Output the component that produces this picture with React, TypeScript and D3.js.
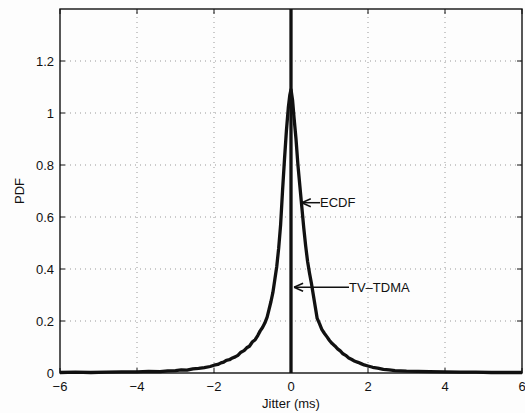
import React from "react";
import * as d3 from "d3";

const ecdfX = [
  -6, -5.6, -5.2, -4.8, -4.4, -4.0, -3.7, -3.4, -3.2, -3.0, -2.85, -2.7, -2.55, -2.4, -2.25, -2.1, -2.0,
  -1.9, -1.82, -1.75, -1.68, -1.6, -1.52, -1.45, -1.38, -1.3, -1.22, -1.15, -1.08, -1.0, -0.93, -0.86,
  -0.8, -0.74, -0.68, -0.62, -0.57, -0.52, -0.47, -0.42, -0.37, -0.32, -0.27, -0.22, -0.17, -0.12, -0.07, -0.03, 0,
  0.04, 0.08, 0.13, 0.18, 0.23, 0.28, 0.33, 0.38, 0.43, 0.48, 0.53, 0.58, 0.63, 0.68, 0.74, 0.8, 0.87, 0.94,
  1.0, 1.07, 1.14, 1.21, 1.28, 1.35, 1.42, 1.5, 1.58, 1.66, 1.74, 1.82, 1.9, 2.0, 2.12, 2.25, 2.4, 2.55, 2.7,
  2.85, 3.0, 3.3, 3.6, 4.0, 4.4, 4.8, 5.2, 5.6, 6,
];
const ecdfY = [
  0.002, 0.003, 0.002, 0.003, 0.004, 0.004, 0.006, 0.005, 0.008, 0.009, 0.012, 0.011, 0.016, 0.018, 0.021, 0.025, 0.03,
  0.033, 0.039, 0.042, 0.049, 0.051, 0.058, 0.062, 0.068, 0.08, 0.086, 0.097, 0.103, 0.12, 0.128, 0.145,
  0.162, 0.175, 0.192, 0.215, 0.245, 0.275, 0.31, 0.36, 0.41, 0.48, 0.57, 0.7, 0.82, 0.93, 1.02, 1.07, 1.09,
  1.05, 0.98, 0.9, 0.8, 0.72, 0.64, 0.56, 0.49, 0.43, 0.385, 0.345, 0.3, 0.255, 0.21, 0.19, 0.168, 0.152, 0.138,
  0.125, 0.113, 0.104, 0.093, 0.085, 0.074, 0.068, 0.058, 0.052, 0.045, 0.041, 0.036, 0.031, 0.027, 0.022, 0.019, 0.014, 0.012, 0.009,
  0.008, 0.007, 0.006, 0.005, 0.004, 0.003, 0.003, 0.002, 0.002, 0.002,
];
const tvX = [0, 0];
const tvY = [0, 1.4];
const xTicks = [-6, -4, -2, 0, 2, 4, 6];
const yTicks = [0, 0.2, 0.4, 0.6, 0.8, 1, 1.2];

const W = 525;
const H = 413;
const m = { left: 60, right: 3, top: 9, bottom: 40 };

export default function App() {
  const x = d3.scaleLinear().domain([-6, 6]).range([m.left, W - m.right]);
  const y = d3.scaleLinear().domain([0, 1.4]).range([H - m.bottom, m.top]);
  const line = d3
    .line<[number, number]>()
    .x((d) => x(d[0]))
    .y((d) => y(d[1]));
  const ecdf = ecdfX.map((v, i) => [v, ecdfY[i]] as [number, number]);
  const tv = tvX.map((v, i) => [v, tvY[i]] as [number, number]);
  const fmt = (v: number) => (v < 0 ? "\u2212" + Math.abs(v) : String(v));
  const x0 = m.left;
  const x1 = W - m.right;
  const y0 = H - m.bottom;
  const y1 = m.top;
  const font = "'Liberation Sans', Arial, Helvetica, sans-serif";
  const fs = 13;

  const arrow = (tx: number, ty: number, ex: number) => {
    const px = x(tx);
    const py = y(ty);
    return (
      <g stroke="#111" strokeWidth={1.5} fill="none">
        <line x1={px} y1={py} x2={ex} y2={py} />
        <line x1={px} y1={py} x2={px + 9} y2={py - 4} />
        <line x1={px} y1={py} x2={px + 9} y2={py + 4} />
      </g>
    );
  };

  return (
    <div style={{ position: "absolute", left: 0, top: 0 }}>
      <svg width={W} height={H} style={{ display: "block", background: "#fdfdfd" }} fontFamily={font}>
        {/* grid */}
        <g stroke="#999" strokeWidth={1} strokeDasharray="1 4">
          {xTicks.slice(1, -1).map((t) => (
            <line key={"gx" + t} x1={x(t)} x2={x(t)} y1={y0} y2={y1} />
          ))}
          {yTicks.slice(1).map((t) => (
            <line key={"gy" + t} x1={x0} x2={x1} y1={y(t)} y2={y(t)} />
          ))}
        </g>
        {/* ticks */}
        <g stroke="#111" strokeWidth={1}>
          {xTicks.map((t) => (
            <g key={"tx" + t}>
              <line x1={x(t)} x2={x(t)} y1={y0} y2={y0 - 5} />
              <line x1={x(t)} x2={x(t)} y1={y1} y2={y1 + 5} />
            </g>
          ))}
          {yTicks.map((t) => (
            <g key={"ty" + t}>
              <line x1={x0} x2={x0 + 5} y1={y(t)} y2={y(t)} />
              <line x1={x1} x2={x1 - 5} y1={y(t)} y2={y(t)} />
            </g>
          ))}
        </g>
        {/* curves */}
        <path d={line(ecdf) || ""} fill="none" stroke="#111" strokeWidth={3.3} strokeLinejoin="round" />
        <path d={line(tv) || ""} fill="none" stroke="#111" strokeWidth={3.3} />
        {/* box */}
        <rect x={x0} y={y1} width={x1 - x0} height={y0 - y1} fill="none" stroke="#111" strokeWidth={1.4} />
        {/* tick labels */}
        <g fontSize={fs} fill="#111">
          {xTicks.map((t) => (
            <text key={"lx" + t} x={x(t)} y={y0 + 18} textAnchor="middle">
              {fmt(t)}
            </text>
          ))}
          {yTicks.map((t) => (
            <text key={"ly" + t} x={x0 - 6} y={y(t) + 4.5} textAnchor="end">
              {fmt(t)}
            </text>
          ))}
        </g>
        <text x={x(0)} y={H - 5} textAnchor="middle" fontSize={fs} fill="#111">
          Jitter (ms)
        </text>
        <text
          transform={`translate(24, ${(y0 + y1) / 2}) rotate(-90)`}
          textAnchor="middle"
          fontSize={fs}
          fill="#111"
        >
          PDF
        </text>
        {/* annotations */}
        {arrow(0.28, 0.655, 320)}
        <text x={320} y={y(0.655) + 4.5} fontSize={fs} fill="#111">
          ECDF
        </text>
        {arrow(0.08, 0.33, 349)}
        <text x={349} y={y(0.33) + 4.5} fontSize={fs} fill="#111">
          TV–TDMA
        </text>
      </svg>
    </div>
  );
}
